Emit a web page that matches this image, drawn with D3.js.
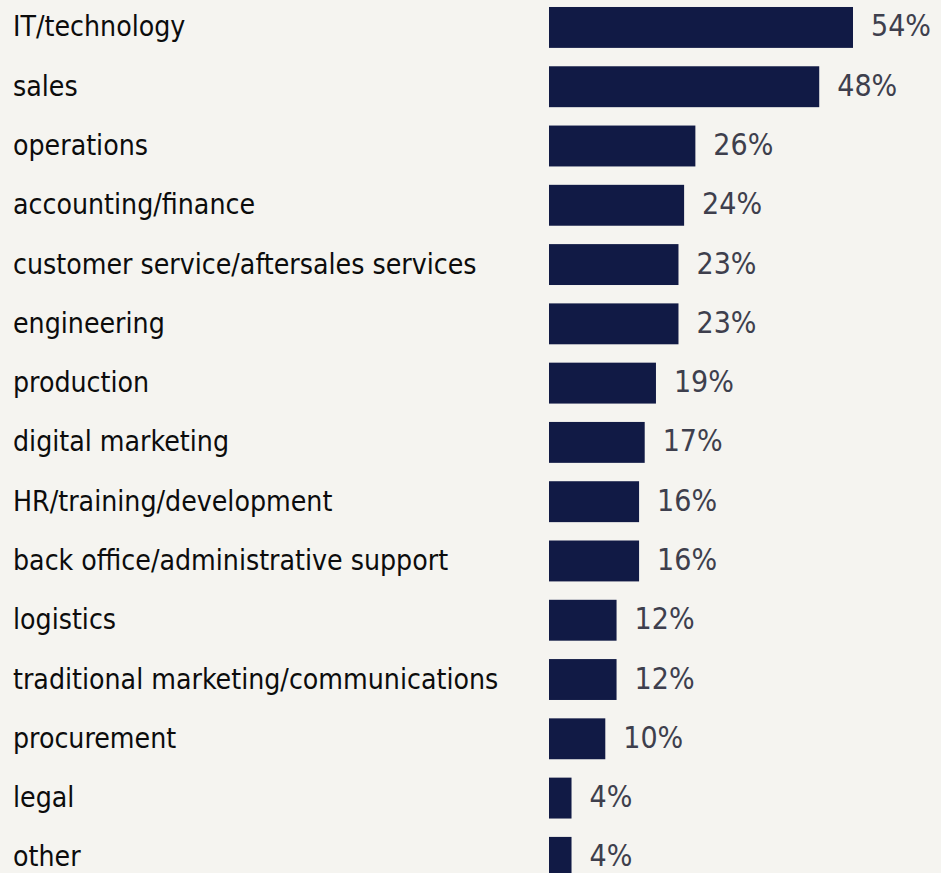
<!DOCTYPE html>
<html>
<head>
<meta charset="utf-8">
<script src="https://cdn.jsdelivr.net/npm/d3@7"></script>
<style>
  html, body { margin: 0; padding: 0; background: #f5f4f0; }
  svg { display: block; }
  text { font-family: "DejaVu Sans", Verdana, sans-serif; font-stretch: condensed; }
</style>
</head>
<body>
<svg id="chart" width="941" height="873"></svg>
<script>
// Share of respondents by department
const categories = [
  "IT/technology",
  "sales",
  "operations",
  "accounting/finance",
  "customer service/aftersales services",
  "engineering",
  "production",
  "digital marketing",
  "HR/training/development",
  "back office/administrative support",
  "logistics",
  "traditional marketing/communications",
  "procurement",
  "legal",
  "other"
];
const values = [54, 48, 26, 24, 23, 23, 19, 17, 16, 16, 12, 12, 10, 4, 4];

const width = 941, height = 873;
const barLeft = 549;
const svg = d3.select("#chart");

svg.append("rect").attr("width", width).attr("height", height).attr("fill", "#f5f4f0");

// horizontal scale: percent -> pixels
const x = d3.scaleLinear().domain([0, 54]).range([barLeft, 853]);

// vertical band per category
const y = d3.scaleBand()
  .domain(categories)
  .range([-2.2, 887])
  .paddingInner(0.31)
  .paddingOuter(0.155);

const rows = svg.selectAll("g.row")
  .data(categories.map((c, i) => ({ cat: c, val: values[i] })))
  .join("g")
  .attr("class", "row");

rows.append("rect")
  .attr("x", x(0))
  .attr("y", d => y(d.cat))
  .attr("width", d => x(d.val) - x(0))
  .attr("height", y.bandwidth())
  .attr("fill", "#111a45");

rows.append("text")
  .attr("x", 13)
  .attr("y", d => y(d.cat) + y.bandwidth() / 2 + 9)
  .attr("fill", "#0c0c0c")
  .attr("font-size", 28.2)
  .text(d => d.cat);

rows.append("text")
  .attr("x", d => x(d.val) + 18)
  .attr("y", d => y(d.cat) + y.bandwidth() / 2 + 9)
  .attr("fill", "#3e3f4d")
  .attr("font-size", 30)
  .text(d => d.val + "%");
</script>
</body>
</html>
